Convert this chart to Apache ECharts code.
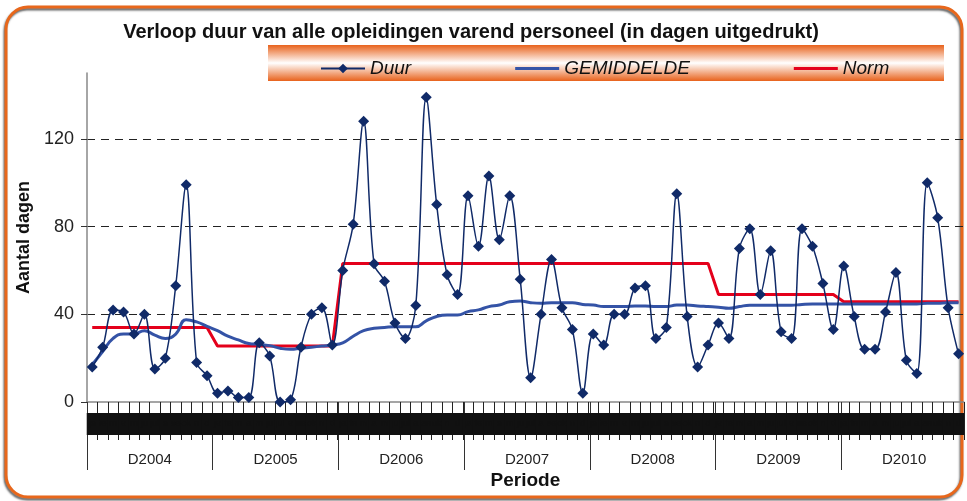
<!DOCTYPE html>
<html>
<head>
    <meta charset="UTF-8">
    <title>Verloop duur opleidingen</title>
    <script src="https://cdn.jsdelivr.net/npm/echarts@6/dist/echarts.min.js"></script>
</head>
<body style="margin: 0; background: #fff;">
<div id="container" style="width: 967px; height: 501px;"></div>
<script type="text/javascript">
    // jaren en maanden op de x-as
    var jaren = ['D2004', 'D2005', 'D2006', 'D2007', 'D2008', 'D2009', 'D2010'];
    var maandNamen = ['jan', 'feb', 'mrt', 'apr', 'mei', 'jun', 'jul', 'aug', 'sep', 'okt', 'nov', 'dec'];
    var maanden = [];
    for (var j = 0; j < jaren.length; j++) {
        for (var m = 0; m < maandNamen.length; m++) {
            maanden.push(maandNamen[m] + ' ' + jaren[j].substring(1));
        }
    }

    // Duur per maand (dagen)
    var duur = [16, 25, 42, 41, 31, 40, 15, 20, 53, 99, 18, 12,
        4, 5, 2, 2, 27, 21, 0, 1, 25, 40, 43, 26,
        60, 81, 128, 63, 55, 36, 29, 44, 139, 90, 58, 49,
        94, 71, 103, 74, 94, 56, 11, 40, 65, 43, 33, 4,
        31, 26, 40, 40, 52, 53, 29, 34, 95, 39, 16, 26,
        36, 29, 70, 79, 49, 69, 32, 29, 79, 71, 54, 33,
        62, 39, 24, 24, 41, 59, 19, 13, 100, 84, 43, 22];

    // voortschrijdend gemiddelde
    var gemiddelde = [17, 23, 29, 31, 31, 32.5, 30.5, 29, 31, 37.5, 36.5, 34.5,
        32.5, 30, 28.3, 26.7, 26.3, 25.7, 24.5, 24, 24.5, 25, 25.5, 26,
        27, 30, 32.5, 33.6, 34, 34.3, 34.3, 34.3, 37, 39, 39.7, 39.7,
        41.2, 42, 43.5, 44.2, 45.7, 46, 45.3, 45, 45.3, 45.3, 45.3, 44.5,
        44.2, 43.5, 43.5, 43.5, 43.8, 43.8, 43.5, 43.5, 44.2, 44.2, 43.8, 43.5,
        43.2, 42.7, 43.5, 44.1, 44.1, 44.1, 44.1, 44.1, 44.5, 44.7, 44.7, 44.7,
        44.7, 44.7, 44.7, 44.7, 44.7, 44.7, 44.7, 44.7, 45, 45, 45.3, 45.3];

    // norm per jaar
    var normPerJaar = [34, 25.5, 63.2, 63.2, 63.2, 49, 45.7];
    var norm = [];
    for (var k = 0; k < maanden.length; k++) {
        norm.push(normPerJaar[Math.floor(k / 12)]);
    }

    var dom = document.getElementById('container');
    var myChart = echarts.init(dom, null, {renderer: 'canvas'});

    var gridPos = {left: 87, top: 73, width: 889, height: 329};
    // platte lijn als legendasymbool
    var lijnIcon = 'path://M0,0 L44,0 L44,3 L0,3 Z';

    var option = {
        backgroundColor: '#fff',
        animation: false,
        textStyle: {fontFamily: 'Liberation Sans, Arial, sans-serif'},
        title: {
            text: 'Verloop duur van alle opleidingen varend personeel (in dagen uitgedrukt)',
            left: 466,
            top: 17,
            textAlign: 'center',
            textStyle: {fontSize: 20, fontWeight: 'bold', color: '#111'}
        },
        graphic: [
            {
                type: 'rect',
                shape: {x: 6, y: 7, width: 956, height: 490, r: 22},
                style: {
                    fill: 'none', stroke: '#e8671b', lineWidth: 3,
                    shadowColor: 'rgba(0,0,0,0.6)', shadowBlur: 2, shadowOffsetX: -1, shadowOffsetY: 2
                },
                z: 0
            },
            {
                type: 'rect',
                shape: {x: 268, y: 45, width: 676, height: 36},
                style: {
                    fill: new echarts.graphic.LinearGradient(0, 0, 0, 1, [
                        {offset: 0, color: '#e8621c'},
                        {offset: 0.5, color: '#ffffff'},
                        {offset: 1, color: '#e8621c'}
                    ])
                },
                z: 3
            }
        ],
        legend: {
            left: 315,
            top: 54,
            itemGap: 104,
            itemWidth: 44,
            itemHeight: 12,
            z: 5,
            textStyle: {fontSize: 19, fontStyle: 'italic', color: '#111'},
            data: [
                {name: 'Duur'},
                {name: 'GEMIDDELDE', icon: lijnIcon},
                {name: 'Norm', icon: lijnIcon}
            ]
        },
        grid: [
            {left: gridPos.left, top: gridPos.top, width: gridPos.width, height: gridPos.height},
            {left: gridPos.left, top: gridPos.top, width: gridPos.width, height: gridPos.height}
        ],
        xAxis: [
            {
                type: 'category',
                gridIndex: 0,
                data: maanden,
                boundaryGap: true,
                name: 'Periode',
                nameLocation: 'middle',
                nameGap: 69,
                nameTextStyle: {fontSize: 19, fontWeight: 'bold', color: '#111'},
                axisLine: {show: true, lineStyle: {color: '#888', width: 1.5}},
                axisTick: {show: true, interval: 0, length: 38, lineStyle: {color: '#222'}},
                axisLabel: {
                    show: true,
                    interval: 0,
                    margin: 11,
                    width: 11,
                    height: 22,
                    lineHeight: 22,
                    overflow: 'truncate',
                    ellipsis: '',
                    padding: 0,
                    fontSize: 9,
                    color: '#111',
                    backgroundColor: '#111'
                },
                splitLine: {show: false}
            },
            {
                type: 'category',
                gridIndex: 1,
                data: jaren,
                boundaryGap: true,
                axisLine: {show: false},
                axisTick: {show: true, interval: 0, length: 68, lineStyle: {color: '#333'}},
                axisLabel: {interval: 0, margin: 50, fontSize: 15, color: '#222'},
                splitLine: {show: false}
            }
        ],
        yAxis: [
            {
                type: 'value',
                gridIndex: 0,
                min: 0,
                max: 150,
                interval: 40,
                name: 'Aantal dagen',
                nameLocation: 'middle',
                nameGap: 54,
                nameTextStyle: {fontSize: 18, fontWeight: 'bold', color: '#111'},
                axisLine: {show: true, lineStyle: {color: '#888', width: 1.5}},
                axisTick: {show: true, length: 6, lineStyle: {color: '#333'}},
                axisLabel: {fontSize: 18, color: '#222', margin: 13, showMaxLabel: false},
                splitLine: {
                    show: true,
                    showMinLine: false,
                    showMaxLine: false,
                    lineStyle: {color: '#222', type: [8, 6], width: 1}
                }
            },
            {
                type: 'value',
                gridIndex: 1,
                show: false,
                min: 0,
                max: 150
            }
        ],
        series: [
            {
                name: 'Duur',
                type: 'line',
                xAxisIndex: 0,
                yAxisIndex: 0,
                data: duur,
                smooth: 0.35,
                symbol: 'diamond',
                symbolSize: 11,
                showAllSymbol: true,
                itemStyle: {color: '#102a68'},
                lineStyle: {color: '#102a68', width: 1.5},
                z: 4
            },
            {
                name: 'GEMIDDELDE',
                type: 'line',
                xAxisIndex: 0,
                yAxisIndex: 0,
                data: gemiddelde,
                smooth: 0.5,
                symbol: 'none',
                itemStyle: {color: '#3453a6'},
                lineStyle: {color: '#3453a6', width: 3},
                z: 3
            },
            {
                name: 'Norm',
                type: 'line',
                xAxisIndex: 0,
                yAxisIndex: 0,
                data: norm,
                symbol: 'none',
                itemStyle: {color: '#e4001b'},
                lineStyle: {color: '#e4001b', width: 3},
                z: 2
            }
        ]
    };

    if (option && typeof option === 'object') {
        myChart.setOption(option, true);
    }
</script>
</body>
</html>
